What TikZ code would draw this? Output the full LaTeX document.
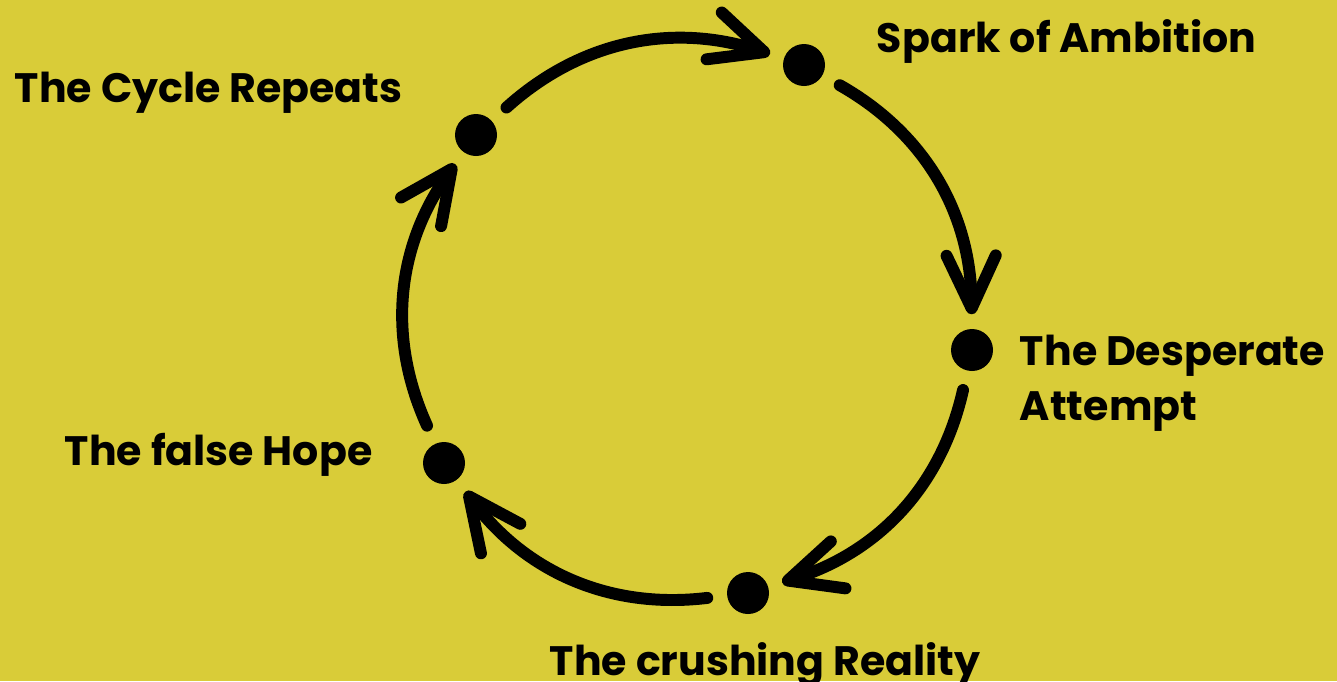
\documentclass[tikz,border=0pt]{standalone}
\usepackage{fontspec}
\setmainfont{Poppins}
\usetikzlibrary{arrows.meta}
\definecolor{cyclebg}{RGB}{217,204,56}
\tikzset{
  dot/.style={circle, fill=black, inner sep=0pt, minimum size=0.84cm},
  flow/.style={-{Straight Barb[round, length=30pt, width=28pt]}, line cap=round,
    shorten <=8pt, shorten >=5pt},
  stage/.style={inner sep=0pt, font=\fontsize{23.4}{31.3}\selectfont\bfseries, align=left}
}
\begin{document}
\begin{tikzpicture}[x=0.02cm, y=0.02cm, line width=6.8pt]
  \fill[cyclebg] (0,0) rectangle (1337,-681);
  \useasboundingbox (0,0) rectangle (1337,-681);
  % the five stages round the circle
  \node[dot] (spark) at (804,-65) {};
  \node[dot] (attempt) at (972,-350) {};
  \node[dot] (reality) at (748,-593) {};
  \node[dot] (hope) at (444,-463) {};
  \node[dot] (repeat) at (476,-135) {};
  \node[stage, anchor=base west] (sparklbl) at (871,-52) {Spark of Ambition};
  \node[stage, anchor=base west] (attemptlbl) at (1014,-420) {The Desperate\\Attempt};
  \node[stage, anchor=base west] (realitylbl) at (544,-675) {The crushing Reality};
  \node[stage, anchor=base west] (hopelbl) at (59,-465) {The false Hope};
  \node[stage, anchor=base west] (repeatlbl) at (9,-102) {The Cycle Repeats};
  % arcs, clockwise
  \draw[flow] (repeat) to[bend left=30] (spark);
  \draw[flow] (spark) to[bend left=30] (attempt);
  \draw[flow] (attempt) to[bend left=30] (reality);
  \draw[flow] (reality) to[bend left=30] (hope);
  \draw[flow] (hope) to[bend left=30] (repeat);
\end{tikzpicture}
\end{document}
